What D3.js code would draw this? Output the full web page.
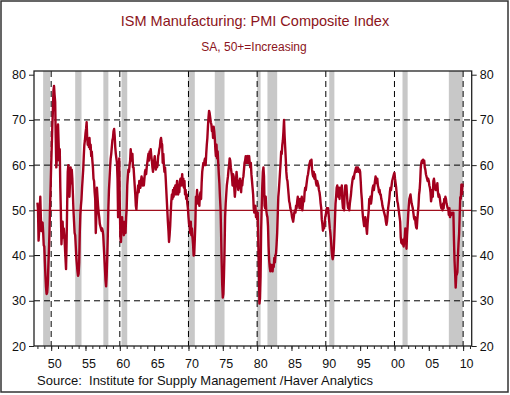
<!DOCTYPE html>
<html><head><meta charset="utf-8">
<script src="https://cdn.jsdelivr.net/npm/d3@7/dist/d3.min.js"></script>
<style>body{margin:0;background:#fff}svg{display:block}text{white-space:pre}</style>
</head><body><svg id="c" width="510" height="395"></svg>
<script>
const title = "ISM Manufacturing: PMI Composite Index";
const subtitle = "SA, 50+=Increasing";
const source = "Source:  Institute for Supply Management /Haver Analytics";
const startYear = 1948;
// monthly PMI values, Jan..Dec per row
const pmi1948_1959 = [
  51.7,50.2,43.3,45.4,49.5,53.0,48.4,45.4,47.0,47.3,45.2,42.3,
  42.0,38.5,35.5,33.0,31.5,31.8,33.5,37.5,41.0,45.0,50.5,55.0,
  60.0,64.0,68.5,72.0,76.5,77.5,75.5,74.0,66.0,59.5,61.5,66.0,
  69.0,65.0,61.0,63.5,55.0,49.5,42.5,45.5,47.5,44.0,46.0,44.5,
  42.0,39.5,37.0,43.0,51.5,58.5,60.0,55.0,53.0,56.5,59.5,56.0,
  59.0,57.0,53.5,50.0,47.5,45.0,44.5,42.0,39.5,38.0,36.5,35.5,
  36.0,38.5,45.0,49.0,51.0,52.5,55.0,57.0,59.0,62.0,64.5,65.5,
  67.0,68.0,69.5,66.0,64.5,65.5,64.0,66.0,63.5,64.5,62.0,63.0,
  61.0,59.5,57.0,56.5,54.0,52.5,45.0,49.0,55.0,53.0,51.0,49.5,
  48.5,47.0,46.5,46.0,45.5,46.0,45.5,44.5,42.0,39.5,37.0,34.5,
  33.2,35.5,39.5,44.5,50.5,54.5,57.0,59.5,61.5,62.5,64.0,65.5,
  66.0,67.5,68.0,66.5,64.0,62.5,61.5,60.5,57.0,48.5,52.0,61.5
];
const pmi1960_1969 = [
  51.0,44.0,43.0,46.5,48.5,45.5,47.5,44.5,46.0,47.5,45.0,48.5,
  50.5,55.5,57.5,59.0,58.5,60.0,61.0,63.5,62.0,61.0,62.5,59.5,
  59.5,57.5,55.5,53.5,51.0,50.2,52.5,54.0,55.5,54.0,56.5,55.5,
  55.0,56.5,57.5,56.0,55.5,57.0,55.5,57.0,58.5,59.0,58.0,59.5,
  60.5,61.5,62.5,61.0,63.0,62.5,63.5,62.0,61.0,59.5,58.5,60.0,
  61.0,62.0,60.5,59.0,60.5,59.5,60.0,62.0,62.5,63.5,64.0,65.5,
  66.0,65.0,64.5,60.5,62.5,60.0,58.5,59.5,57.5,55.0,52.5,50.0,
  47.5,45.5,43.0,44.5,46.5,49.5,52.0,53.5,52.5,54.5,53.0,55.0,
  54.0,55.5,53.5,54.5,56.5,55.0,53.5,55.5,54.0,56.5,57.0,55.5,
  56.0,58.0,55.5,57.0,55.0,56.5,53.5,54.5,52.5,53.5,51.5,50.5
];
const pmi1970_1979 = [
  48.5,47.0,46.5,45.0,47.5,44.5,46.0,44.0,42.5,40.0,40.2,43.5,
  47.0,53.0,52.0,54.5,51.5,53.0,52.5,51.0,53.5,54.0,52.5,56.0,
  58.5,59.5,60.5,60.0,61.0,61.5,60.0,62.5,64.5,66.0,68.5,70.5,
  72.0,71.5,70.5,69.5,69.0,67.5,68.0,66.0,68.5,67.5,66.0,63.5,
  62.0,64.5,61.5,63.0,60.5,58.0,56.0,53.0,50.5,45.0,38.5,33.5,
  30.7,31.5,35.5,41.0,48.5,51.5,53.5,55.5,56.5,57.5,59.0,60.0,
  61.5,61.0,59.5,58.5,57.5,55.5,58.0,57.5,55.0,53.0,54.5,56.5,
  58.5,57.0,56.0,54.5,56.5,55.0,57.0,56.0,54.0,56.5,55.5,57.0,
  57.5,59.0,60.5,61.0,62.0,60.5,61.5,62.0,60.5,61.5,62.0,60.5,
  59.5,60.5,58.0,56.5,55.0,53.5,50.5,49.5,50.0,51.0,48.5,49.5
];
const pmi1980_1989 = [
  48.0,49.5,43.5,37.5,29.4,30.5,35.5,45.5,51.0,55.5,58.5,59.5,
  57.5,51.0,50.5,53.0,50.0,49.0,48.5,46.5,42.0,39.0,37.5,36.5,
  38.0,37.5,37.0,36.5,38.0,37.5,39.5,38.5,40.0,40.5,42.5,45.0,
  49.0,53.0,54.5,56.5,58.5,60.5,63.0,62.5,64.5,65.5,67.5,70.0,
  66.5,64.0,61.5,58.5,57.0,56.5,55.0,53.5,52.0,51.5,50.5,50.0,
  49.5,48.5,48.0,47.5,48.5,49.5,50.0,49.5,51.0,50.5,52.0,53.0,
  52.0,51.5,50.5,52.5,50.5,51.5,53.0,50.0,51.5,52.5,52.0,54.0,
  55.0,54.5,55.5,56.5,57.5,58.0,59.0,60.0,60.5,61.0,60.0,61.2,
  59.0,58.0,57.5,58.5,57.0,58.0,57.0,56.0,55.5,56.5,56.0,55.5,
  54.5,54.0,53.0,51.5,50.5,48.0,47.0,45.5,46.5,46.0,47.0,48.5
];
const pmi1990_1999 = [
  49.0,50.0,50.5,49.5,50.5,49.0,47.5,46.0,45.0,43.5,41.5,40.0,
  39.2,39.8,41.5,44.5,48.0,51.5,53.0,55.0,55.5,54.0,53.0,55.0,
  52.5,54.5,55.0,53.5,55.5,52.0,50.5,51.5,50.0,54.0,55.5,55.0,
  55.5,53.5,51.5,50.5,51.5,50.0,51.5,52.5,53.5,55.0,56.0,57.0,
  57.5,57.0,58.0,58.5,59.0,59.5,58.5,59.0,59.5,59.0,58.5,59.0,
  58.5,56.5,54.0,52.5,50.0,48.5,47.5,46.5,47.5,48.5,47.5,46.0,
  44.8,47.0,48.5,50.0,52.5,51.5,53.0,51.5,52.5,54.0,55.0,55.5,
  54.5,55.5,56.5,57.5,57.0,56.0,57.0,55.5,55.0,54.0,54.5,53.5,
  53.5,52.5,52.0,51.0,50.5,50.0,49.5,49.0,48.5,47.5,46.8,47.5,
  49.0,50.5,51.5,52.5,54.0,55.0,54.5,55.5,56.5,57.0,57.5,58.0
];
const pmi2000_2009 = [
  58.3,57.0,56.0,55.0,53.5,52.0,51.5,50.5,49.5,48.5,47.5,44.0,
  42.8,43.0,42.5,43.5,42.0,43.0,44.0,46.0,45.5,41.5,44.5,46.5,
  49.0,51.0,52.5,53.0,53.5,52.5,51.5,51.0,50.5,49.5,48.5,48.0,
  48.5,47.0,46.2,46.0,48.0,49.5,51.0,53.5,54.5,56.5,59.5,60.5,
  61.0,60.5,61.2,60.5,61.0,59.5,59.0,58.0,57.5,57.0,56.5,57.0,
  56.5,55.5,55.0,54.0,52.0,53.0,54.5,53.0,56.5,57.0,56.0,55.0,
  54.5,55.5,54.5,56.0,54.0,53.0,53.5,53.0,52.0,51.0,50.5,51.0,
  50.0,51.5,50.5,52.5,52.0,53.0,52.5,51.5,51.0,50.5,50.5,49.0,
  50.5,48.5,49.0,49.0,49.5,49.5,49.5,49.5,43.5,38.9,36.2,32.9,
  35.6,35.8,36.3,40.1,42.8,44.8,48.9,52.9,52.6,55.7,53.6,55.9
];
// recession periods (decimal years)
const recessionStart = [1948.83,1953.5,1957.6,1960.25,1969.92,1973.83,1980.0,1981.5,1990.5,2001.17,2007.92];
const recessionEnd   = [1949.83,1954.42,1958.33,1961.08,1970.92,1975.25,1980.5,1982.92,1991.25,2001.92,2009.95];
const yTicks = [20,30,40,50,60,70,80];
const yGrid = [30,40,60,70];
const xDecades = [1950,1960,1970,1980,1990,2000,2010];
const xLabelYears = [1950,1955,1960,1965,1970,1975,1980,1985,1990,1995,2000,2005,2010];
const xLabels = ["50","55","60","65","70","75","80","85","90","95","00","05","10"];

const pmi = [].concat(pmi1948_1959,pmi1960_1969,pmi1970_1979,pmi1980_1989,pmi1990_1999,pmi2000_2009);
const data = pmi.map((v,i)=>({t: startYear + i/12, v}));

const svg = d3.select("#c");
const FONT = "'Liberation Sans', Arial, sans-serif";
const red = "#8c1420";
const L = 34, R = 471.7, T = 71, B = 346;
const x = d3.scaleLinear().domain([1947.5, 2011.25]).range([L, R]);
const y = d3.scaleLinear().domain([20, 80]).range([B, 74.7]);

svg.append("rect").attr("width",510).attr("height",395).attr("fill","#fff");
svg.append("rect").attr("x",1).attr("y",1).attr("width",507).attr("height",391)
  .attr("fill","none").attr("stroke","#333").attr("stroke-width",1.5);

svg.append("text").attr("x",255).attr("y",26).attr("text-anchor","middle")
  .attr("font-family",FONT).attr("font-size",14.5).attr("fill",red).text(title);
svg.append("text").attr("x",254).attr("y",51).attr("text-anchor","middle")
  .attr("font-family",FONT).attr("font-size",12).attr("fill",red).text(subtitle);

// recessions
svg.append("g").selectAll("rect").data(recessionStart).join("rect")
  .attr("x",(d)=>x(d)).attr("y",T)
  .attr("width",(d,i)=>x(recessionEnd[i])-x(d)).attr("height",B-T)
  .attr("fill","#c8c8c8");

// grid
const g = svg.append("g").attr("stroke","#000").attr("stroke-width",1).attr("stroke-dasharray","6,4");
g.selectAll("line.h").data(yGrid).join("line").attr("class","h")
  .attr("x1",L).attr("x2",R).attr("y1",d=>y(d)).attr("y2",d=>y(d));
g.selectAll("line.v").data(xDecades).join("line").attr("class","v")
  .attr("x1",d=>x(d)).attr("x2",d=>x(d)).attr("y1",T).attr("y2",B);

// 50 line
svg.append("line").attr("x1",L).attr("x2",R).attr("y1",y(50)).attr("y2",y(50))
  .attr("stroke","#a0101e").attr("stroke-width",1.2);

// data line
svg.append("path").datum(data)
  .attr("d", d3.line().x(d=>x(d.t)).y(d=>y(d.v)))
  .attr("fill","none").attr("stroke","#a3001e").attr("stroke-width",2.4).attr("stroke-linejoin","round");

// frame
svg.append("rect").attr("x",L).attr("y",T).attr("width",R-L).attr("height",B-T)
  .attr("fill","none").attr("stroke","#222").attr("stroke-width",1.3);

// y axes
const yl = svg.append("g").attr("transform",`translate(${L},0)`);
yl.call(d3.axisLeft(y).tickValues(yTicks).tickSize(5).tickPadding(3).tickFormat(d3.format("d")));
const yr = svg.append("g").attr("transform",`translate(${R},0)`);
yr.call(d3.axisRight(y).tickValues(yTicks).tickSize(5).tickPadding(3).tickFormat(d3.format("d")));
[yl,yr].forEach(a=>{
  a.select(".domain").remove();
  a.selectAll("line").attr("stroke","#222");
  a.selectAll("text").attr("font-family",FONT).attr("font-size",12.5).attr("fill","#111");
});

// x axis: minor yearly ticks
const minorYears = d3.range(1948, 2012);
const xa = svg.append("g").attr("transform",`translate(0,${B})`);
xa.call(d3.axisBottom(x).tickValues(minorYears).tickSize(3).tickFormat(""));
xa.select(".domain").remove();
xa.selectAll("line").attr("stroke","#222");
const xb = svg.append("g").attr("transform",`translate(0,${B})`);
xb.call(d3.axisBottom(x).tickValues(xLabelYears).tickSize(5).tickPadding(8)
  .tickFormat((d,i)=>xLabels[i]));
xb.select(".domain").remove();
xb.selectAll("line").attr("stroke","#222");
xb.selectAll("text").attr("font-family",FONT).attr("font-size",12.5).attr("fill","#111").attr("dx",3);

svg.append("text").attr("x",37).attr("y",385)
  .attr("font-family",FONT).attr("font-size",13).attr("fill","#111").text(source);
</script></body></html>
